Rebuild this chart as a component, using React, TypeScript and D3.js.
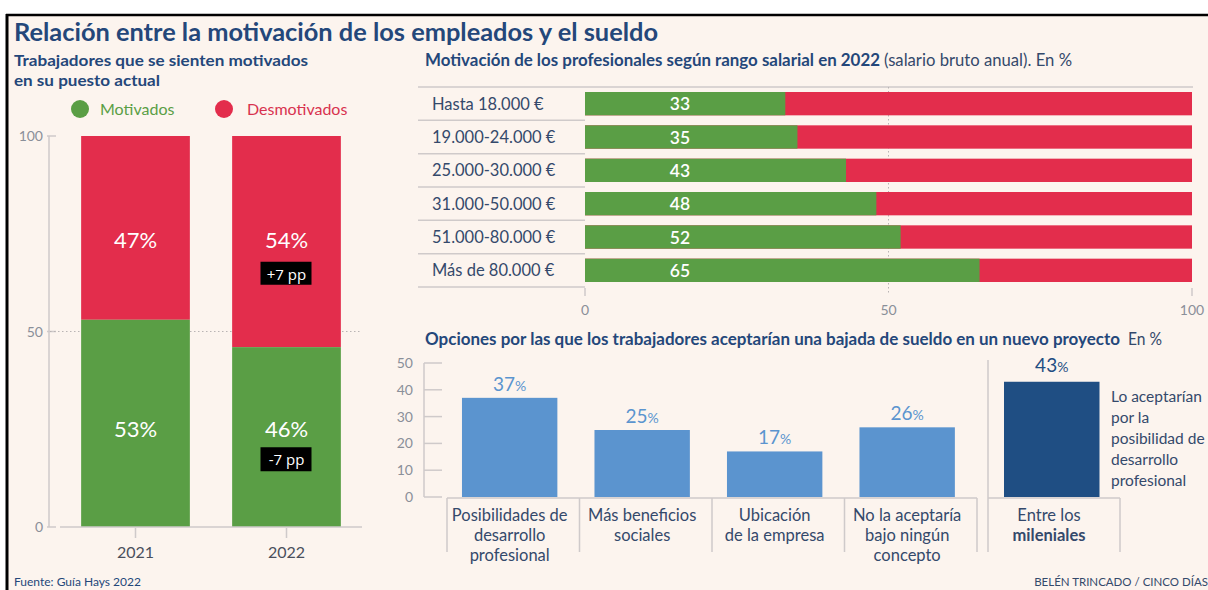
import React from 'react';
import * as d3 from 'd3';

// ---------- DATA ----------
const years = ['2021', '2022'];
const motivados = [53, 46];
const desmotivados = [47, 54];
const changeMot = ['', '-7 pp'];
const changeDes = ['', '+7 pp'];
const leftTicks = [0, 50, 100];

const salaryRanges = ['Hasta 18.000 €', '19.000-24.000 €', '25.000-30.000 €', '31.000-50.000 €', '51.000-80.000 €', 'Más de 80.000 €'];
const salaryMotivated = [33, 35, 43, 48, 52, 65];
const salaryTicks = [0, 50, 100];

const optionLabels = [
  ['Posibilidades de', 'desarrollo', 'profesional'],
  ['Más beneficios', 'sociales'],
  ['Ubicación', 'de la empresa'],
  ['No la aceptaría', 'bajo ningún', 'concepto'],
];
const optionKeys = ['pos', 'ben', 'ubi', 'no'];
const optionValues = [37, 25, 17, 26];
const optionTicks = [0, 10, 20, 30, 40, 50];
const milenialValue = 43;
const milenialNote = ['Lo aceptarían', 'por la', 'posibilidad de', 'desarrollo', 'profesional'];

// ---------- STYLE ----------
const FONT = 'Lato, "Open Sans", sans-serif';
const GREEN = '#5a9e45';
const RED = '#e32d4c';
const LIGHTBLUE = '#5b94cf';
const DARKBLUE = '#1f4e83';
const TITLE = '#24477a';
const TEXT = '#34496b';
const GRID = '#cfcaca';
const TICKTXT = '#8a8f99';
const BG = '#fcf4ee';

export default function App() {
  // Left chart scales
  const yL = d3.scaleLinear().domain([0, 100]).range([527, 136]);
  const xL = d3.scaleBand().domain(years).range([60, 362]).paddingInner(0.28).paddingOuter(0.14);
  const desLabelY = yL(75);
  const motLabelY = yL(25);

  // Top right chart
  const xS = d3.scaleLinear().domain([0, 100]).range([585, 1192]);
  const yS = d3.scaleBand().domain(salaryRanges).range([87, 287]).paddingInner(0.3).paddingOuter(0.15);
  const rowStep = yS.step();

  // Bottom right chart
  const yO = d3.scaleLinear().domain([0, 50]).range([497, 363]);
  const xO = d3.scaleBand().domain(optionKeys).range([447, 977]);
  const barOff = xO.bandwidth() * 0.113;
  const barW = xO.bandwidth() * 0.72;
  const xM = d3.scaleBand().domain(['mil']).range([988, 1120]);

  return (
    <svg width={1208} height={590} style={{ position: 'absolute', left: 0, top: 0, fontFamily: FONT }}>
      <rect x={0} y={0} width={1208} height={590} fill="#ffffff" />
      <rect x={7} y={15} width={1201} height={575} fill={BG} />
      <line x1={6} x2={1208} y1={15} y2={15} stroke="#000" strokeWidth={2.5} />
      <line x1={7} x2={7} y1={14} y2={590} stroke="#000" strokeWidth={3} />

      {/* Title */}
      <text x={14} y={41} fontSize={24} fontWeight={700} fill={TITLE} textLength={644} lengthAdjust="spacingAndGlyphs">Relación entre la motivación de los empleados y el sueldo</text>
      <text x={14} y={66} fontSize={16} fontWeight={700} fill={TITLE} textLength={294} lengthAdjust="spacingAndGlyphs">Trabajadores que se sienten motivados</text>
      <text x={14} y={86} fontSize={16} fontWeight={700} fill={TITLE} textLength={146} lengthAdjust="spacingAndGlyphs">en su puesto actual</text>

      {/* Legend */}
      <circle cx={80} cy={109} r={9} fill={GREEN} />
      <text x={100} y={115} fontSize={16} fill={GREEN}>Motivados</text>
      <circle cx={224} cy={109} r={9} fill={RED} />
      <text x={247} y={115} fontSize={16} fill="#d8324f">Desmotivados</text>

      {/* Left chart axis */}
      <line x1={49} x2={49} y1={yL(100)} y2={yL(0)} stroke={GRID} strokeWidth={1.5} />
      {leftTicks.map((t) => (
        <g key={t}>
          <text x={43} y={yL(t) + 5} fontSize={14} textAnchor="end" fill={TICKTXT}>{t}</text>
          <line x1={47} x2={56} y1={yL(t)} y2={yL(t)} stroke={GRID} strokeWidth={1.5} />
        </g>
      ))}
      <line x1={50} x2={362} y1={yL(50)} y2={yL(50)} stroke="#b9b4b4" strokeWidth={1} strokeDasharray="1.5,2.5" />
      {years.map((yr, i) => {
        const x0 = xL(yr)!;
        const bw = xL.bandwidth();
        const cx = x0 + bw / 2;
        return (
          <g key={yr}>
            <rect x={x0} y={yL(100)} width={bw} height={yL(motivados[i]) - yL(100)} fill={RED} />
            <rect x={x0} y={yL(motivados[i])} width={bw} height={yL(0) - yL(motivados[i])} fill={GREEN} />
            <text x={cx} y={desLabelY + 14} fontSize={22} textAnchor="middle" fill="#fff">{desmotivados[i]}%</text>
            <text x={cx} y={motLabelY + 8} fontSize={22} textAnchor="middle" fill="#fff">{motivados[i]}%</text>
            {changeDes[i] && (
              <g>
                <rect x={cx - 26} y={desLabelY + 28} width={51} height={23} fill="#000" />
                <text x={cx} y={desLabelY + 46} fontSize={15} textAnchor="middle" fill="#fff" fontFamily="'Open Sans', sans-serif">{changeDes[i]}</text>
              </g>
            )}
            {changeMot[i] && (
              <g>
                <rect x={cx - 26} y={motLabelY + 18} width={51} height={24} fill="#000" />
                <text x={cx} y={motLabelY + 36} fontSize={15} textAnchor="middle" fill="#fff" fontFamily="'Open Sans', sans-serif">{changeMot[i]}</text>
              </g>
            )}
            <line x1={cx} x2={cx} y1={yL(0) + 1} y2={yL(0) + 11} stroke={GRID} strokeWidth={1.5} />
            <text x={cx} y={558} fontSize={16} textAnchor="middle" fill="#4a4f5c">{yr}</text>
          </g>
        );
      })}
      <line x1={60} x2={362} y1={yL(0)} y2={yL(0)} stroke={GRID} strokeWidth={1.5} />

      <text x={14} y={586} fontSize={12} fill={TITLE}>Fuente: Guía Hays 2022</text>

      {/* Top right chart */}
      <text x={425} y={66} fontSize={16.5} fontWeight={700} fill={TITLE} textLength={455} lengthAdjust="spacingAndGlyphs">Motivación de los profesionales según rango salarial en 2022</text>
      <text x={884} y={66} fontSize={16.5} fill={TEXT} textLength={188} lengthAdjust="spacingAndGlyphs">(salario bruto anual). En %</text>
      <line x1={418} x2={1193} y1={87} y2={87} stroke={GRID} strokeWidth={1.5} />
      {salaryRanges.map((_, i) => (
        <line key={i} x1={418} x2={585} y1={87 + rowStep * (i + 1)} y2={87 + rowStep * (i + 1)} stroke={GRID} strokeWidth={1.5} />
      ))}
      <line x1={xS(50)} x2={xS(50)} y1={87} y2={293} stroke="#b9b4b4" strokeWidth={1} strokeDasharray="1.5,2.5" />
      {salaryRanges.map((r, i) => {
        const y0 = yS(r)!;
        const bh = yS.bandwidth();
        return (
          <g key={r}>
            <text x={432} y={y0 + bh / 2 + 6} fontSize={16.5} fill={TEXT}>{r}</text>
            <rect x={xS(0)} y={y0} width={xS(100) - xS(0)} height={bh} fill={RED} />
            <rect x={xS(0)} y={y0} width={xS(salaryMotivated[i]) - xS(0)} height={bh} fill={GREEN} />
            <text x={680} y={y0 + bh / 2 + 6.5} fontSize={17.5} fontWeight={600} textAnchor="middle" fill="#fff">{salaryMotivated[i]}</text>
          </g>
        );
      })}
      {salaryTicks.map((t) => (
        <g key={t}>
          {t !== 50 && <line x1={xS(t)} x2={xS(t)} y1={288} y2={296} stroke={GRID} strokeWidth={1.5} />}
          <text x={xS(t)} y={315} fontSize={14} textAnchor="middle" fill={TICKTXT}>{t}</text>
        </g>
      ))}

      {/* Bottom right chart */}
      <text x={425} y={345} fontSize={16.5} fontWeight={700} fill={TITLE} textLength={695} lengthAdjust="spacingAndGlyphs">Opciones por las que los trabajadores aceptarían una bajada de sueldo en un nuevo proyecto</text>
      <text x={1128} y={345} fontSize={16.5} fill={TEXT} textLength={34} lengthAdjust="spacingAndGlyphs">En %</text>
      <line x1={424} x2={424} y1={yO(50)} y2={yO(0)} stroke={GRID} strokeWidth={1.5} />
      {optionTicks.map((t) => (
        <g key={t}>
          <text x={413} y={yO(t) + 5} fontSize={14} textAnchor="end" fill={TICKTXT}>{t}</text>
          <line x1={424} x2={442} y1={yO(t)} y2={yO(t)} stroke={GRID} strokeWidth={1.5} />
        </g>
      ))}
      <line x1={447} x2={977} y1={yO(0) + 1} y2={yO(0) + 1} stroke={GRID} strokeWidth={1.5} />
      {optionKeys.map((k, i) => {
        const bx = xO(k)! + barOff;
        const cx = bx + barW / 2;
        return (
          <g key={k}>
            <rect x={bx} y={yO(optionValues[i])} width={barW} height={yO(0) - yO(optionValues[i])} fill={LIGHTBLUE} />
            <text x={cx} y={yO(optionValues[i]) - 7} textAnchor="middle" fill={LIGHTBLUE}>
              <tspan fontSize={19}>{optionValues[i]}</tspan>
              <tspan fontSize={14}>%</tspan>
            </text>
            <line x1={xO(k)!} x2={xO(k)!} y1={yO(0) + 1} y2={552} stroke={GRID} strokeWidth={1.5} />
            {optionLabels[i].map((ln, j) => (
              <text key={j} x={cx} y={521 + j * 20} fontSize={16.5} textAnchor="middle" fill={TEXT}>{ln}</text>
            ))}
          </g>
        );
      })}
      <line x1={977} x2={977} y1={yO(0) + 1} y2={552} stroke={GRID} strokeWidth={1.5} />

      {/* Milenials */}
      <line x1={xM('mil')!} x2={xM('mil')!} y1={360} y2={552} stroke={GRID} strokeWidth={1.5} />
      <line x1={xM('mil')!} x2={xM('mil')! + xM.bandwidth()} y1={yO(0) + 1} y2={yO(0) + 1} stroke={GRID} strokeWidth={1.5} />
      <line x1={xM('mil')! + xM.bandwidth()} x2={xM('mil')! + xM.bandwidth()} y1={yO(0) + 1} y2={552} stroke={GRID} strokeWidth={1.5} />
      <rect x={xM('mil')! + 16} y={yO(milenialValue)} width={95.5} height={yO(0) - yO(milenialValue)} fill={DARKBLUE} />
      <text x={xM('mil')! + 16 + 47.75} y={yO(milenialValue) - 10} textAnchor="middle" fill={DARKBLUE}>
        <tspan fontSize={19}>{milenialValue}</tspan>
        <tspan fontSize={14}>%</tspan>
      </text>
      <text x={1049} y={521} fontSize={16.5} textAnchor="middle" fill={TEXT}>Entre los</text>
      <text x={1049} y={541} fontSize={16.5} fontWeight={700} textAnchor="middle" fill={TEXT}>mileniales</text>
      {milenialNote.map((ln, j) => (
        <text key={j} x={1111} y={402 + j * 21} fontSize={15.5} fill={TEXT}>{ln}</text>
      ))}

      <text x={1208} y={586} fontSize={11.5} textAnchor="end" fill={TEXT}>BELÉN TRINCADO / CINCO DÍAS</text>
    </svg>
  );
}
